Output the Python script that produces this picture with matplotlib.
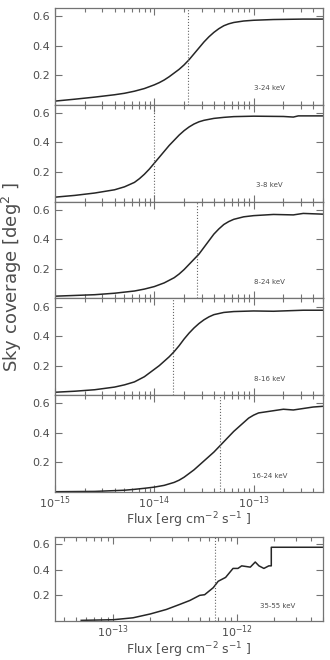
import matplotlib.pyplot as plt
import numpy as np
from matplotlib.ticker import (LogLocator, FixedLocator, NullFormatter,
                               LogFormatterSciNotation)

# log10 flux grid and sky coverage, one set per band
bands = ['3-24 keV', '3-8 keV', '8-24 keV', '8-16 keV', '16-24 keV']

logf_3_24 = [-15, -14.8, -14.6, -14.4, -14.3, -14.2, -14.1, -14.0, -13.95, -13.9,
             -13.85, -13.8, -13.75, -13.7, -13.65, -13.6, -13.55, -13.5, -13.45,
             -13.4, -13.35, -13.3, -13.25, -13.2, -13.1, -13.0, -12.8, -12.5, -12.3]
cov_3_24 = [0.025, 0.038, 0.052, 0.068, 0.078, 0.092, 0.11, 0.135, 0.15, 0.168,
            0.19, 0.215, 0.24, 0.27, 0.305, 0.345, 0.385, 0.425, 0.46,
            0.49, 0.515, 0.535, 0.548, 0.557, 0.567, 0.572, 0.577, 0.58, 0.58]

logf_3_8 = [-15, -14.8, -14.6, -14.4, -14.3, -14.2, -14.15, -14.1, -14.05, -14.0,
            -13.95, -13.9, -13.85, -13.8, -13.75, -13.7, -13.65, -13.6, -13.55,
            -13.5, -13.4, -13.3, -13.2, -13.0, -12.7, -12.6, -12.55, -12.3]
cov_3_8 = [0.03, 0.042, 0.058, 0.08, 0.1, 0.13, 0.155, 0.185, 0.22, 0.26,
           0.3, 0.34, 0.38, 0.415, 0.45, 0.48, 0.505, 0.525, 0.54,
           0.55, 0.563, 0.57, 0.575, 0.578, 0.576, 0.572, 0.58, 0.58]

logf_8_24 = [-15, -14.6, -14.4, -14.2, -14.1, -14.0, -13.9, -13.8, -13.75, -13.7,
             -13.65, -13.6, -13.55, -13.5, -13.45, -13.4, -13.35, -13.3, -13.25,
             -13.2, -13.1, -13.0, -12.8, -12.6, -12.5, -12.3]
cov_8_24 = [0.015, 0.025, 0.035, 0.05, 0.063, 0.08, 0.105, 0.14, 0.165, 0.195,
            0.23, 0.265, 0.3, 0.345, 0.39, 0.435, 0.47, 0.5, 0.52,
            0.535, 0.552, 0.56, 0.568, 0.565, 0.575, 0.57]

logf_8_16 = [-15, -14.8, -14.6, -14.4, -14.3, -14.2, -14.1, -14.05, -14.0, -13.95,
             -13.9, -13.85, -13.8, -13.75, -13.7, -13.65, -13.6, -13.55, -13.5,
             -13.45, -13.4, -13.3, -13.2, -13.0, -12.8, -12.5, -12.3]
cov_8_16 = [0.02, 0.027, 0.037, 0.055, 0.07, 0.09, 0.125, 0.15, 0.175, 0.2,
            0.23, 0.26, 0.295, 0.335, 0.38, 0.42, 0.455, 0.485, 0.51,
            0.53, 0.545, 0.56, 0.566, 0.57, 0.568, 0.575, 0.575]

logf_16_24 = [-15, -14.6, -14.3, -14.2, -14.1, -14.0, -13.9, -13.8, -13.75, -13.7,
              -13.65, -13.6, -13.55, -13.5, -13.45, -13.4, -13.35, -13.3, -13.25,
              -13.2, -13.15, -13.1, -13.05, -13.0, -12.95, -12.9, -12.8, -12.7,
              -12.6, -12.5, -12.4, -12.3]
cov_16_24 = [0.002, 0.004, 0.012, 0.018, 0.025, 0.033, 0.045, 0.065, 0.08, 0.1,
             0.125, 0.15, 0.18, 0.21, 0.24, 0.27, 0.305, 0.34, 0.375,
             0.41, 0.44, 0.47, 0.5, 0.52, 0.535, 0.54, 0.55, 0.56,
             0.555, 0.565, 0.575, 0.58]

logf_35_55 = [-13.26, -13.0, -12.84, -12.7, -12.57, -12.46, -12.38, -12.30, -12.26,
              -12.19, -12.15, -12.09, -12.03, -11.99, -11.96, -11.89, -11.85,
              -11.82, -11.78, -11.74, -11.72, -11.72, -11.3]
cov_35_55 = [0.005, 0.01, 0.025, 0.055, 0.09, 0.13, 0.16, 0.20, 0.205,
             0.26, 0.31, 0.34, 0.41, 0.41, 0.43, 0.42, 0.46,
             0.43, 0.41, 0.43, 0.43, 0.575, 0.575]

# flux limits (dotted lines)
flim = [2.2e-14, 1.0e-14, 2.67e-14, 1.53e-14, 4.6e-14]
flim_35_55 = 6.7e-13

# major x ticks inside each axis range
xticks_top = [1e-15, 1e-14, 1e-13]
xticks_bot = [1e-13, 1e-12]

logfs = [logf_3_24, logf_3_8, logf_8_24, logf_8_16, logf_16_24]
covs = [cov_3_24, cov_3_8, cov_8_24, cov_8_16, cov_16_24]

txt = '0.3'
frame = '0.45'
plt.rcParams['font.family'] = 'DejaVu Sans'


def style(ax, xticks):
    ax.set_xscale('log')
    ax.set_ylim(0, 0.655)
    ax.yaxis.set_major_locator(FixedLocator([0.2, 0.4, 0.6]))
    ax.set_yticklabels(['0.2', '0.4', '0.6'])
    ax.xaxis.set_major_locator(FixedLocator(xticks))
    ax.xaxis.set_major_formatter(LogFormatterSciNotation())
    ax.xaxis.set_minor_locator(LogLocator(base=10, subs=np.arange(2, 10)))
    ax.xaxis.set_minor_formatter(NullFormatter())
    ax.tick_params(which='both', direction='in', top=True, right=True,
                   colors=frame, labelcolor=txt, labelsize=8, width=0.8)
    ax.tick_params(which='major', length=5)
    ax.tick_params(which='minor', length=3)
    ax.tick_params(axis='x', pad=2)
    for s in ax.spines.values():
        s.set_color(frame)
        s.set_linewidth(0.9)


fig = plt.figure(figsize=(3.3, 6.6), dpi=100)
left, width = 55 / 330, 268 / 330
top = 1 - 8 / 660
h = (492 - 8) / 5 / 660

axes = []
for i in range(5):
    ax = fig.add_axes([left, top - (i + 1) * h, width, h])
    style(ax, xticks_top)
    ax.plot(10 ** np.array(logfs[i]), covs[i], color='0.15', lw=1.1)
    ax.axvline(flim[i], color='0.4', ls=':', lw=0.8)
    ax.set_xlim(1e-15, 5e-13)
    ax.text(0.80, 0.17, bands[i], transform=ax.transAxes, fontsize=5,
            color=txt, ha='center', va='center')
    if i < 4:
        ax.tick_params(labelbottom=False)
    axes.append(ax)

axes[-1].set_xlabel(r'Flux [erg cm$^{-2}$ s$^{-1}$ ]', fontsize=9, color=txt,
                    labelpad=-1)

ax6 = fig.add_axes([left, 1 - 621 / 660, width, 84 / 660])
style(ax6, xticks_bot)
ax6.plot(10 ** np.array(logf_35_55), cov_35_55, color='0.15', lw=1.1)
ax6.axvline(flim_35_55, color='0.4', ls=':', lw=0.8)
ax6.set_xlim(3.37e-14, 5e-12)
ax6.text(0.83, 0.18, '35-55 keV', transform=ax6.transAxes, fontsize=5,
         color=txt, ha='center', va='center')
ax6.set_xlabel(r'Flux [erg cm$^{-2}$ s$^{-1}$ ]', fontsize=9, color=txt,
               labelpad=0)

fig.text(0.035, 1 - 277 / 660, r'Sky coverage [deg$^2$ ]', rotation=90,
         fontsize=13, color=txt, ha='center', va='center')

plt.savefig('out.png', dpi=100)
